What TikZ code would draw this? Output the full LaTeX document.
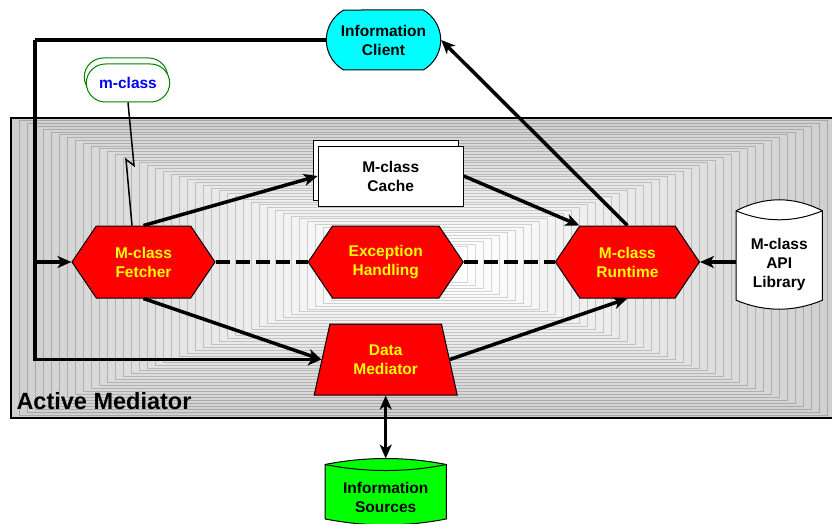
\documentclass[tikz,border=0pt]{standalone}
\usepackage{fontspec}
\setmainfont{Liberation Sans}
\usepackage{tikz}
\usetikzlibrary{arrows.meta}
\usetikzlibrary{positioning}
\usetikzlibrary{shapes}
\usetikzlibrary{shadows}
\usetikzlibrary{calc}
\usepackage{xcolor}
\definecolor{aqua}{RGB}{0,255,255}
\definecolor{lime}{RGB}{0,255,0}
\definecolor{hot}{RGB}{255,0,0}
\definecolor{lemon}{RGB}{255,255,0}
\definecolor{leaf}{RGB}{0,128,0}
\definecolor{ink}{RGB}{0,0,255}
\pgfdeclarelayer{background}
\pgfsetlayers{background,main}

% drum outline round a node: node, fill, third of width, lower sag, upper sag
\newcommand\drum[5]{%
	\draw[line width=1pt, fill=#2] ([yshift=#4pt]#1.north west) .. controls +(#3,-1.333*#5) and +(-#3,-1.333*#5) .. ([yshift=#4pt]#1.north east)
		-- ([yshift=#4pt]#1.south east) .. controls +(-#3,1.333*#4) and +(#3,1.333*#4) .. ([yshift=#4pt]#1.south west) -- cycle;
	\draw[line width=1pt] ([yshift=#4pt]#1.north west) .. controls +(#3,1.333*#4) and +(-#3,1.333*#4) .. ([yshift=#4pt]#1.north east);
}

\tikzset{
	lbl/.style={font=\fontsize{15.5pt}{19pt}\selectfont\bfseries, align=center},
	module/.style={lbl, signal, signal to=west and east, signal pointer angle=112, line width=1pt,
		draw=black, fill=hot, text=lemon, minimum width=143pt, minimum height=72pt, inner sep=0pt},
	store/.style={lbl, rectangle, inner sep=0pt},
	flow/.style={line width=3.5pt, -{Stealth[length=14pt,width=12pt,inset=4pt]}},
	link/.style={line width=3.5pt, dash pattern=on 14pt off 6pt}
}

\begin{document}
\begin{tikzpicture}[x=1pt, y=-1pt]
	\useasboundingbox (0,0) rectangle (832,524);
	% shaded mediator box
	\begin{pgfonlayer}{background}
	\foreach \i in {0,...,46}{%
		\pgfmathsetmacro\fl{19*(1-\i/46)}
		\pgfmathsetmacro\dr{\fl+16}
		\draw[draw=black!\dr, fill=black!\fl, line width=0.7pt] ({11+8*\i},{118+2.8*\i}) rectangle ({835-8*\i},{418-2.95*\i});
	}
	\draw[line width=1.2pt] (11,118) rectangle (835,418);
	\end{pgfonlayer}
	\node[anchor=west, font=\fontsize{23.5pt}{28pt}\selectfont\bfseries] (am) at (13,401) {Active Mediator};

	\node[module] (fetch) at (143.5,262) {M-class\\Fetcher};
	\node[module, minimum width=155pt] (exc) [right=92pt of fetch] {Exception\\Handling};
	\node[module, minimum width=144pt] (rt) [right=91pt of exc] {M-class\\Runtime};
	\node[store, minimum width=86pt, minimum height=89pt] (lib) [right=36pt of rt, yshift=-2.5pt] {M-class\\API\\Library};
	\node[lbl, draw=black, fill=white, line width=1pt, minimum width=145pt, minimum height=60pt,
		copy shadow={shadow xshift=-5pt, shadow yshift=6pt, draw=black, fill=white}]
		(cache) [above=19pt of exc, xshift=5pt] {M-class\\Cache};
	\node[lbl, trapezium, trapezium left angle=73, trapezium right angle=73, trapezium stretches=true, line width=1pt,
		draw=black, fill=hot, text=lemon, minimum width=144pt, minimum height=71pt, inner sep=0pt]
		(dm) [below=25pt of exc] {Data\\Mediator};
	\node[store, minimum width=121pt, minimum height=54pt] (src) [below=75pt of dm] {Information\\Sources};
	\node[lbl, rounded rectangle, rounded rectangle arc length=120, draw=black, fill=aqua, line width=1pt,
		minimum width=121pt, minimum height=60pt] (client) at (383.5,40) {Information\\Client};
	\node[lbl, rounded rectangle, draw=leaf, line width=1pt, fill=white, text=ink,
		minimum width=90pt, minimum height=38pt,
		copy shadow={shadow xshift=-2pt, shadow yshift=6pt, draw=leaf, fill=white}]
		(mc) at (128,83) {m-class};
	\begin{pgfonlayer}{background}
	\drum{lib}{white}{28.7}{9}{11}
	\drum{src}{lime}{40.3}{6}{6}
	\end{pgfonlayer}

	\coordinate (corner) at (35,40);
	\draw[line width=3.5pt] (client.west) -- (corner);
	\draw[flow] (corner) |- (dm.west);
	\draw[flow] (corner |- fetch.west) -- (fetch.west);
	\draw[line width=1.5pt] (mc.south) -- ++(6,63) -- ++(-8,-6) -- ($(mc.south |- fetch.north)+(4,0)$);
	\draw[flow] (fetch.north) -- (cache.west);
	\draw[flow] (cache.east) -- ([xshift=-48pt]rt.north);
	\draw[flow] (rt.north) -- (client.east);
	\draw[flow] (fetch.south) -- (dm.west);
	\draw[flow] (dm.east) -- (rt.south);
	\draw[link] (fetch.east) -- (exc.west);
	\draw[link] (exc.east) -- (rt.west);
	\draw[flow] (lib.west |- rt.east) -- (rt.east);
	\draw[flow, {Stealth[length=14pt,width=12pt,inset=4pt]}-{Stealth[length=14pt,width=12pt,inset=4pt]}] (dm.south) -- ([yshift=12pt]src.north);
\end{tikzpicture}
\end{document}
